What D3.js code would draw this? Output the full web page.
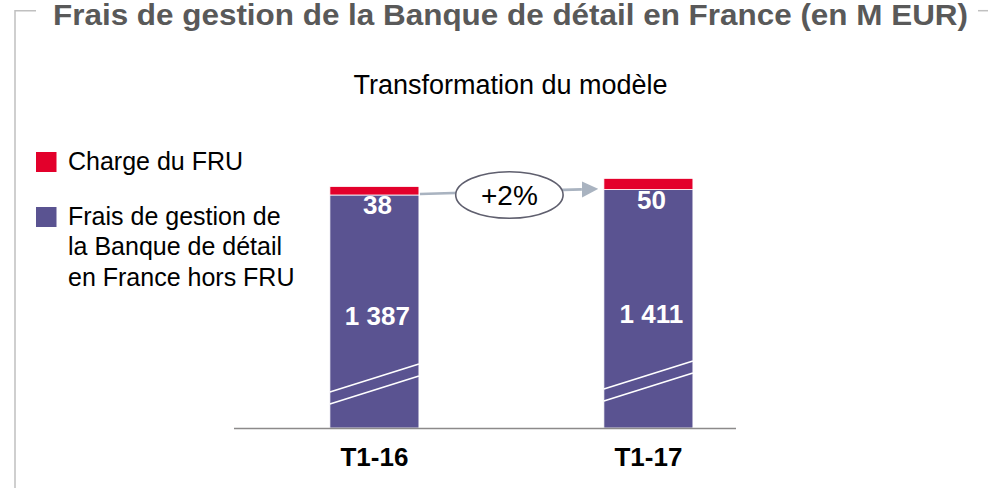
<!DOCTYPE html>
<html lang="fr">
<head>
    <meta charset="UTF-8">
    <title>Frais de gestion de la Banque de détail en France</title>
    <script src="https://d3js.org/d3.v7.min.js"></script>
    <style>
        body {
            margin: 0;
            padding: 0;
            background: #fff;
        }
        svg {
            display: block;
            font-family: "Liberation Sans", Arial, sans-serif;
        }
    </style>
</head>
<body>
    <div id="chart"></div>

    <script>
        // Data
        const categories = ["T1-16", "T1-17"];
        const horsFru = [1387, 1411];      // Frais de gestion hors FRU
        const chargeFru = [38, 50];        // Charge du FRU
        const growthLabel = "+2%";
        const legendLabels = [
            ["Charge du FRU"],
            ["Frais de gestion de", "la Banque de détail", "en France hors FRU"]
        ];

        const width = 988, height = 488;
        const red = "#e3002b", purple = "#5a5391";

        const svg = d3.select("#chart")
            .append("svg")
            .attr("width", width)
            .attr("height", height);

        // Frame (gray border around the block)
        const frame = svg.append("g")
            .attr("stroke", "#c0c0c0")
            .attr("stroke-width", 1.5)
            .attr("fill", "none");
        frame.append("path").attr("d", "M36,10.7 H15 V488");
        frame.append("path").attr("d", "M978,10.7 H988");

        // Title
        svg.append("text")
            .attr("x", 53)
            .attr("y", 25)
            .attr("font-size", 29)
            .attr("font-weight", "bold")
            .attr("fill", "#595959")
            .attr("textLength", 915)
            .attr("lengthAdjust", "spacingAndGlyphs")
            .text("Frais de gestion de la Banque de détail en France (en M EUR)");

        // Subtitle
        svg.append("text")
            .attr("x", 510.5)
            .attr("y", 94)
            .attr("text-anchor", "middle")
            .attr("font-size", 27)
            .attr("fill", "#000")
            .text("Transformation du modèle");

        // Scales (broken axis: starts well above zero)
        const x = d3.scaleBand()
            .domain(categories)
            .range([234, 736])
            .paddingInner(0.675)
            .paddingOuter(0.2536)
            .align(0.69);

        const y = d3.scaleLinear()
            .domain([350, 1500])
            .range([428, 169.6]);

        const rows = categories.map((c, i) => ({
            cat: c,
            base: horsFru[i],
            fru: chargeFru[i],
            total: horsFru[i] + chargeFru[i]
        }));

        // Purple segments
        svg.selectAll(".bar-base")
            .data(rows)
            .enter()
            .append("rect")
            .attr("class", "bar-base")
            .attr("x", d => x(d.cat))
            .attr("y", d => y(d.base))
            .attr("width", x.bandwidth())
            .attr("height", d => y.range()[0] - y(d.base))
            .attr("fill", purple)
            .attr("stroke", "#fff")
            .attr("stroke-width", 0.8);

        // Red segments
        svg.selectAll(".bar-fru")
            .data(rows)
            .enter()
            .append("rect")
            .attr("class", "bar-fru")
            .attr("x", d => x(d.cat))
            .attr("y", d => y(d.total))
            .attr("width", x.bandwidth())
            .attr("height", d => y(d.base) - y(d.total))
            .attr("fill", red)
            .attr("stroke", "#fff")
            .attr("stroke-width", 0.8);

        // Axis break marks (two white slashes per bar)
        const breakMid = [50, 38];
        rows.forEach((d, i) => {
            breakMid.forEach(off => {
                const yMid = y.range()[0] - off - i * 3;
                svg.append("line")
                    .attr("x1", x(d.cat))
                    .attr("x2", x(d.cat) + x.bandwidth())
                    .attr("y1", yMid + 14)
                    .attr("y2", yMid - 14)
                    .attr("stroke", "#fff")
                    .attr("stroke-width", 1.6);
            });
        });

        // Baseline
        svg.append("line")
            .attr("x1", x.range()[0])
            .attr("x2", x.range()[1])
            .attr("y1", y.range()[0] + 0.5)
            .attr("y2", y.range()[0] + 0.5)
            .attr("stroke", "#8c8a8a")
            .attr("stroke-width", 1.5);

        const fmt = v => d3.format(",")(v).replace(",", " ");

        // Value labels
        svg.selectAll(".lbl-base")
            .data(rows)
            .enter()
            .append("text")
            .attr("x", d => x(d.cat) + x.bandwidth() / 2 + 3)
            .attr("y", d => (y(d.base) + y.range()[0]) / 2 + 14)
            .attr("text-anchor", "middle")
            .attr("font-size", 26)
            .attr("font-weight", "bold")
            .attr("fill", "#fff")
            .text(d => fmt(d.base));

        svg.selectAll(".lbl-fru")
            .data(rows)
            .enter()
            .append("text")
            .attr("x", d => x(d.cat) + x.bandwidth() / 2 + 3)
            .attr("y", d => y(d.base) + 19)
            .attr("text-anchor", "middle")
            .attr("font-size", 26)
            .attr("font-weight", "bold")
            .attr("fill", "#fff")
            .text(d => d.fru);

        // Category labels
        svg.selectAll(".cat")
            .data(rows)
            .enter()
            .append("text")
            .attr("x", d => x(d.cat) + x.bandwidth() / 2)
            .attr("y", 466)
            .attr("text-anchor", "middle")
            .attr("font-size", 26)
            .attr("font-weight", "bold")
            .attr("fill", "#000")
            .text(d => d.cat);

        // Growth arrow between the bars
        const x0 = x(categories[0]) + x.bandwidth() + 1;
        const x1 = x(categories[1]) - 7;
        const ya = y(rows[0].base) - 1;
        const yb = y(rows[1].total) + 11;

        svg.append("defs").append("marker")
            .attr("id", "head")
            .attr("viewBox", "0 0 10 10")
            .attr("refX", 0)
            .attr("refY", 5)
            .attr("markerWidth", 6)
            .attr("markerHeight", 6.2)
            .attr("markerUnits", "strokeWidth")
            .attr("orient", "auto")
            .append("path")
            .attr("d", "M0,0 L10,5 L0,10 Z")
            .attr("fill", "#a9b3c0");

        svg.append("line")
            .attr("x1", x0)
            .attr("y1", ya)
            .attr("x2", x1 - 15)
            .attr("y2", yb)
            .attr("stroke", "#a9b3c0")
            .attr("stroke-width", 2.7)
            .attr("marker-end", "url(#head)");

        const cx = (x0 + x1) / 2 + 1;
        svg.append("ellipse")
            .attr("cx", cx)
            .attr("cy", 195)
            .attr("rx", 53.7)
            .attr("ry", 23.3)
            .attr("fill", "#fff")
            .attr("stroke", "#5f5f6e")
            .attr("stroke-width", 1.6);

        svg.append("text")
            .attr("x", cx)
            .attr("y", 205)
            .attr("text-anchor", "middle")
            .attr("font-size", 28)
            .attr("fill", "#000")
            .text(growthLabel);

        // Legend
        const legend = svg.append("g");
        const legendTop = [152, 207];
        [red, purple].forEach((col, i) => {
            legend.append("rect")
                .attr("x", 36)
                .attr("y", legendTop[i])
                .attr("width", 20.5)
                .attr("height", 20)
                .attr("fill", col);
            const t = legend.append("text")
                .attr("x", 68)
                .attr("y", legendTop[i] + 18)
                .attr("font-size", 25)
                .attr("fill", "#000");
            legendLabels[i].forEach((line, j) => {
                t.append("tspan")
                    .attr("x", 68)
                    .attr("dy", j === 0 ? 0 : 30.3)
                    .text(line);
            });
        });
    </script>
</body>
</html>
